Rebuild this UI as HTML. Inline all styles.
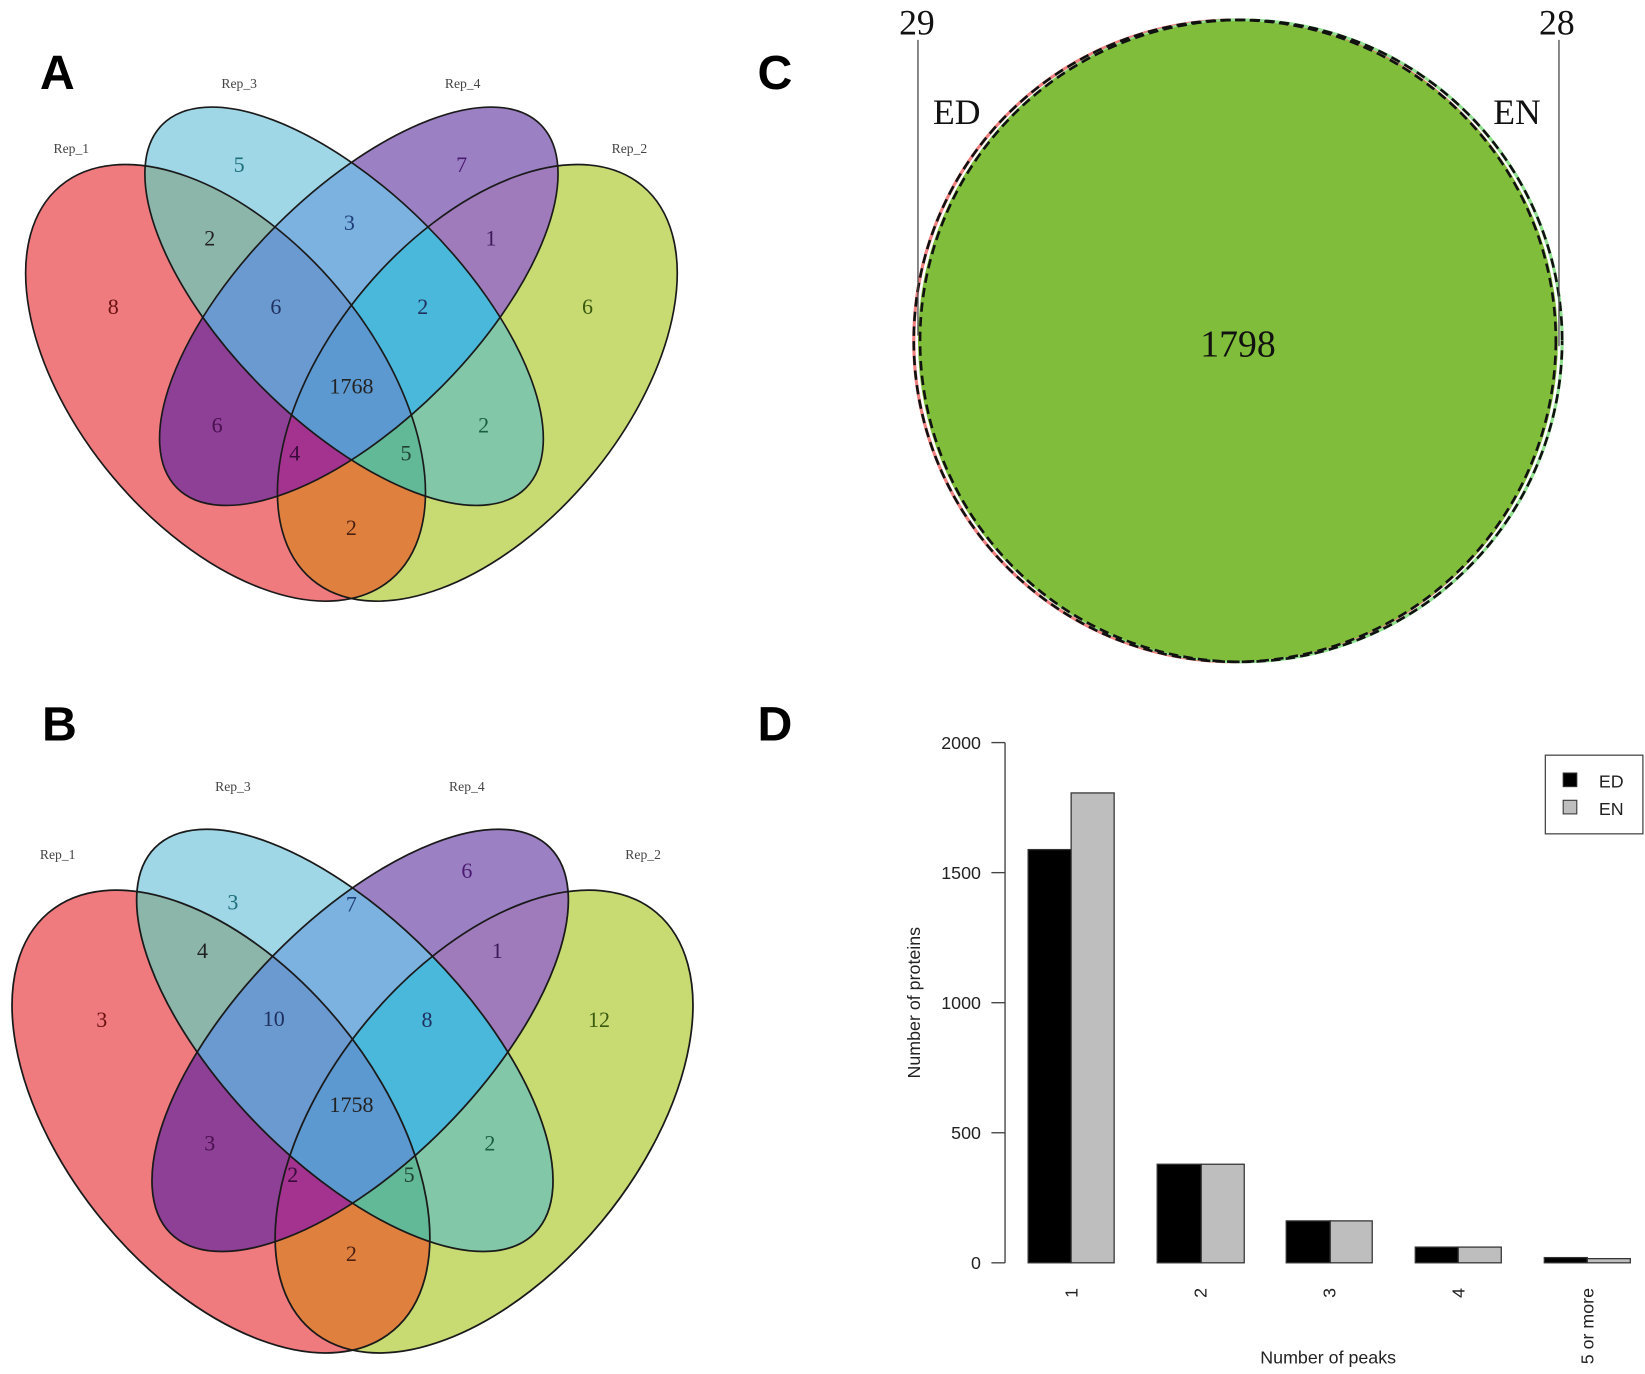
<!DOCTYPE html>
<html><head><meta charset="utf-8"><style>
html,body{margin:0;padding:0;background:#fff;}
svg{display:block;}
.n{font-family:"Liberation Serif",serif;font-size:21px;text-anchor:middle;dominant-baseline:central;}
.r{font-family:"Liberation Serif",serif;font-size:13px;fill:#444;text-anchor:middle;}
.L{font-family:"Liberation Sans",sans-serif;font-weight:bold;font-size:46px;}
.s{font-family:"Liberation Sans",sans-serif;font-size:17px;fill:#222;}
</style></head><body>
<svg width="1645" height="1374" viewBox="0 0 1568 1310" preserveAspectRatio="none" xmlns="http://www.w3.org/2000/svg">
<defs>
<ellipse id="eR" cx="215" cy="365" rx="245" ry="140" transform="rotate(50 215 365)"/>
<ellipse id="eG" cx="455" cy="365" rx="245" ry="140" transform="rotate(-50 455 365)"/>
<ellipse id="eB" cx="328" cy="292" rx="245" ry="110" transform="rotate(45 328 292)"/>
<ellipse id="eP" cx="342" cy="292" rx="245" ry="110" transform="rotate(-45 342 292)"/>
<clipPath id="cR"><use href="#eR"/></clipPath>
<clipPath id="cG"><use href="#eG"/></clipPath>
<clipPath id="cB"><use href="#eB"/></clipPath>
<clipPath id="cP"><use href="#eP"/></clipPath>
<g id="venn">
 <use href="#eR" fill="#f07b7f"/>
 <use href="#eG" fill="#c8db72"/>
 <use href="#eB" fill="#9fd7e6"/>
 <use href="#eP" fill="#9b80c3"/>
 <use href="#eB" fill="#8db6ab" clip-path="url(#cR)"/>
 <use href="#eP" fill="#8e3f96" clip-path="url(#cR)"/>
 <use href="#eG" fill="#e0803e" clip-path="url(#cR)"/>
 <use href="#eP" fill="#7bb2e0" clip-path="url(#cB)"/>
 <use href="#eP" fill="#a07bbb" clip-path="url(#cG)"/>
 <use href="#eB" fill="#82c8a8" clip-path="url(#cG)"/>
 <g clip-path="url(#cR)"><use href="#eB" fill="#6a9ad0" clip-path="url(#cP)"/></g>
 <g clip-path="url(#cG)"><use href="#eB" fill="#4ab8da" clip-path="url(#cP)"/></g>
 <g clip-path="url(#cG)"><use href="#eR" fill="#a3338f" clip-path="url(#cP)"/></g>
 <g clip-path="url(#cG)"><use href="#eR" fill="#62b998" clip-path="url(#cB)"/></g>
 <g clip-path="url(#cG)"><g clip-path="url(#cR)"><use href="#eB" fill="#5c99d0" clip-path="url(#cP)"/></g></g>
 <g fill="none" stroke="#1a1a1a" stroke-width="1.6">
 <use href="#eR"/><use href="#eG"/><use href="#eB"/><use href="#eP"/>
 </g>
</g>
</defs>
<rect width="1568" height="1310" fill="#fff"/>
<!-- Panel A -->
<text class="L" x="38" y="85">A</text>
<text class="r" x="68" y="146">Rep_1</text><text class="r" x="228" y="84">Rep_3</text>
<text class="r" x="441" y="84">Rep_4</text><text class="r" x="600" y="146">Rep_2</text>
<use href="#venn"/>
<g class="n" fill="#222">
<text x="108" y="292" fill="#6a1010">8</text><text x="228" y="157" fill="#1c6f7a">5</text><text x="200" y="227">2</text>
<text x="333" y="212" fill="#1f3f7a">3</text><text x="440" y="157" fill="#4a1a70">7</text><text x="468" y="227" fill="#3a1a5a">1</text>
<text x="560" y="292" fill="#3a5a10">6</text><text x="263" y="292" fill="#1f3060">6</text><text x="403" y="292" fill="#1f3060">2</text>
<text x="335" y="368">1768</text><text x="207" y="405" fill="#4a1050">6</text><text x="281" y="432" fill="#3a0a3a">4</text>
<text x="387" y="432" fill="#1f4030">5</text><text x="461" y="405" fill="#1a6040">2</text><text x="335" y="503" fill="#4a2010">2</text>
</g>
<!-- Panel B -->
<text class="L" x="40" y="706">B</text>
<text class="r" x="55" y="819">Rep_1</text><text class="r" x="222" y="754">Rep_3</text>
<text class="r" x="445" y="754">Rep_4</text><text class="r" x="613" y="819">Rep_2</text>
<g transform="translate(336,1037.5) scale(1.045,1.06) translate(-335,-335)"><use href="#venn"/></g>
<g class="n" fill="#222">
<text x="97" y="972" fill="#6a1010">3</text><text x="222" y="860" fill="#1c6f7a">3</text><text x="193" y="906">4</text>
<text x="335" y="862" fill="#1f3f7a">7</text><text x="445" y="830" fill="#4a1a70">6</text><text x="474" y="906" fill="#3a1a5a">1</text>
<text x="571" y="972" fill="#3a5a10">12</text><text x="261" y="971" fill="#1f3060">10</text><text x="407" y="972" fill="#1f3060">8</text>
<text x="335" y="1053">1758</text><text x="200" y="1090" fill="#4a1050">3</text><text x="279" y="1120" fill="#3a0a3a">2</text>
<text x="390" y="1120" fill="#1f4030">5</text><text x="467" y="1090" fill="#1a6040">2</text><text x="335" y="1195" fill="#4a2010">2</text>
</g>
<!-- Panel C -->
<text class="L" x="722" y="85">C</text>
<ellipse cx="1177" cy="325" rx="306" ry="306" fill="none" stroke="#f08080" stroke-width="3"/>
<ellipse cx="1183" cy="325" rx="306" ry="306" fill="none" stroke="#90e090" stroke-width="3"/>
<ellipse cx="1180" cy="325" rx="305" ry="305" fill="#7fbd3a"/>
<ellipse cx="1177" cy="325" rx="306" ry="306" fill="none" stroke="#111" stroke-width="2.5" stroke-dasharray="9,5"/>
<ellipse cx="1183" cy="325" rx="306" ry="306" fill="none" stroke="#111" stroke-width="2.5" stroke-dasharray="9,5" stroke-dashoffset="5"/>
<line x1="875" y1="38" x2="875" y2="320" stroke="#444" stroke-width="1.2"/>
<line x1="1486" y1="38" x2="1486" y2="330" stroke="#444" stroke-width="1.2"/>
<g font-family="Liberation Serif,serif" font-size="34" fill="#111" text-anchor="middle">
<text x="874" y="33">29</text><text x="1484" y="33">28</text>
<text x="912" y="118">ED</text><text x="1446" y="118">EN</text>
<text x="1180" y="340" font-size="36">1798</text>
</g>
<!-- Panel D -->
<text class="L" x="722" y="706">D</text>
<g stroke="#444" stroke-width="1.3">
<line x1="958" y1="708" x2="958" y2="1204"/>
<line x1="945" y1="708" x2="958" y2="708"/><line x1="945" y1="832" x2="958" y2="832"/>
<line x1="945" y1="956" x2="958" y2="956"/><line x1="945" y1="1080" x2="958" y2="1080"/>
<line x1="945" y1="1204" x2="958" y2="1204"/>
</g>
<g class="s" text-anchor="end">
<text x="935" y="714">2000</text><text x="935" y="838">1500</text><text x="935" y="962">1000</text>
<text x="935" y="1086">500</text><text x="935" y="1210">0</text>
</g>
<g stroke="#333" stroke-width="1.2">
<rect x="980" y="810" width="41" height="394" fill="#000"/><rect x="1021" y="756" width="41" height="448" fill="#bebebe"/>
<rect x="1103" y="1110" width="42" height="94" fill="#000"/><rect x="1145" y="1110" width="41" height="94" fill="#bebebe"/>
<rect x="1226" y="1164" width="42" height="40" fill="#000"/><rect x="1268" y="1164" width="40" height="40" fill="#bebebe"/>
<rect x="1349" y="1189" width="41" height="15" fill="#000"/><rect x="1390" y="1189" width="41" height="15" fill="#bebebe"/>
<rect x="1472" y="1199" width="41" height="5" fill="#000"/><rect x="1513" y="1200" width="41" height="4" fill="#bebebe"/>
</g>
<g class="s" font-size="14" text-anchor="end">
<text transform="translate(1027,1228) rotate(-90)">1</text>
<text transform="translate(1150,1228) rotate(-90)">2</text>
<text transform="translate(1273,1228) rotate(-90)">3</text>
<text transform="translate(1396,1228) rotate(-90)">4</text>
<text transform="translate(1519,1228) rotate(-90)">5 or more</text>
</g>
<text class="s" x="1266" y="1300" text-anchor="middle">Number of peaks</text>
<text class="s" transform="translate(877,956) rotate(-90)" text-anchor="middle">Number of proteins</text>
<rect x="1473" y="720" width="93" height="75" fill="#fff" stroke="#444" stroke-width="1.2"/>
<rect x="1490" y="737" width="13" height="13" fill="#000" stroke="#333"/>
<rect x="1490" y="763" width="13" height="13" fill="#bebebe" stroke="#333"/>
<text class="s" x="1524" y="751">ED</text><text class="s" x="1524" y="777">EN</text>
</svg>
</body></html>
